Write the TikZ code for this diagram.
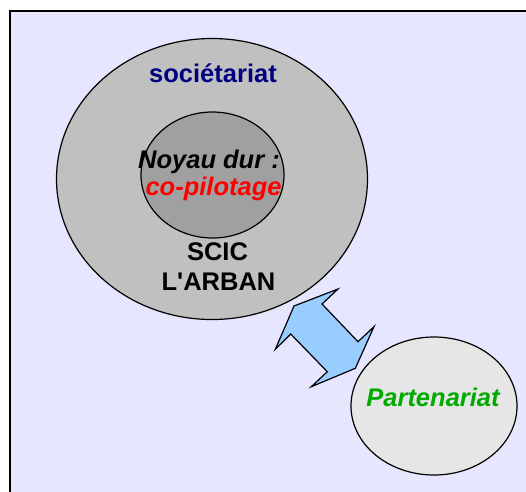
\documentclass[tikz,border=0pt]{standalone}
\usepackage{fontspec}
\newfontfamily\arialfont{Liberation Sans}
\usetikzlibrary{shapes.geometric}
\definecolor{bgc}{HTML}{E6E6FF}
\definecolor{gbig}{HTML}{C0C0C0}
\definecolor{gin}{HTML}{A0A0A0}
\definecolor{gpart}{HTML}{E6E6E6}
\definecolor{arrowblue}{HTML}{99CCFF}
\definecolor{navy}{HTML}{000080}
\definecolor{pgreen}{HTML}{00AA00}
\tikzset{
  blob/.style={ellipse, draw=black, line width=1.2pt, inner sep=0pt},
  lbl/.style={font=\arialfont\fontsize{25.5}{30}\selectfont\bfseries, inner sep=0pt, anchor=base},
  ilbl/.style={lbl, font=\arialfont\fontsize{25.5}{30}\selectfont\bfseries\itshape},
}
\begin{document}
\begin{tikzpicture}[x=1pt,y=-1pt]
\useasboundingbox (0,0) rectangle (526,491);
\path[fill=bgc, draw=black, line width=1.2pt] (10,11) rectangle (540,505);
\node[blob, fill=gbig, minimum width=311pt, minimum height=281pt] (soc) at (212,179) {};
\node[blob, fill=gin, minimum width=143pt, minimum height=126pt] (noyau) at (212.5,175) {};
\node[blob, fill=gpart, minimum width=166pt, minimum height=138pt] (part) at (434,406) {};
\path[fill=arrowblue, draw=black, line width=1.2pt, line join=miter]
  (338,289) -- (322,304) -- (358,341.7) -- (374,326.7) -- (355.3,368.3)
  -- (311.3,386.7) -- (327.3,371.7) -- (290.7,334) -- (275.3,349.3) -- (294,306) -- cycle;
\node[lbl, text=navy] (tsoc) at (213,82.5) {sociétariat};
\node[ilbl] (tnoy) at (209,168) {Noyau dur :};
\node[ilbl, text=red] (tcop) at (213.5,195) {co-pilotage};
\node[lbl] (tscic) at (217.5,260.5) {SCIC};
\node[lbl] (tarb) at (218.5,290) {L'ARBAN};
\node[ilbl, text=pgreen] (tpart) at (433,406.5) {Partenariat};
\end{tikzpicture}
\end{document}
